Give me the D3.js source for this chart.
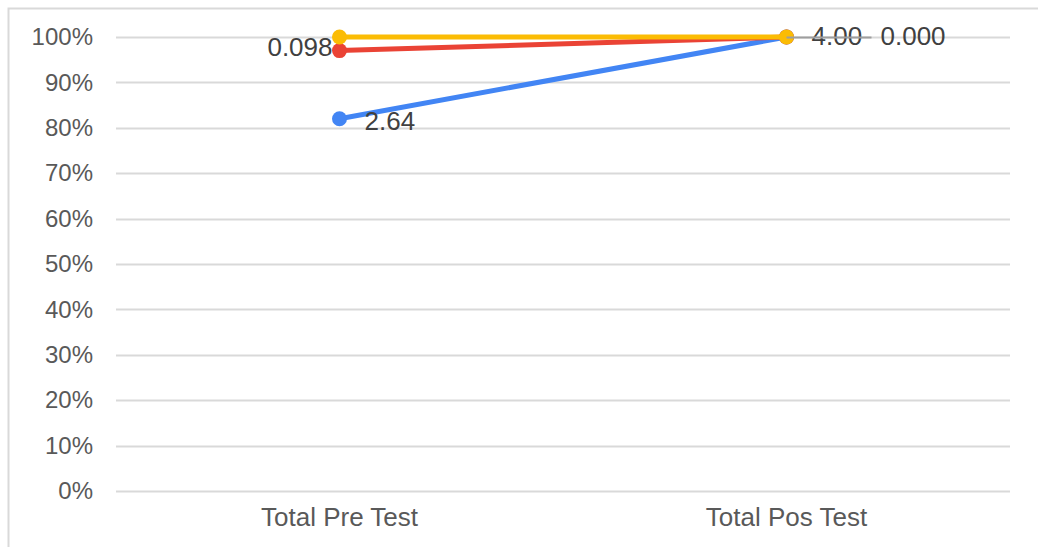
<!DOCTYPE html>
<html>
<head>
<meta charset="utf-8">
<script src="https://cdn.jsdelivr.net/npm/d3@7"></script>
<style>
  body { margin: 0; background: #fff; }
  svg { display: block; font-family: "Liberation Sans", Arial, sans-serif; }
</style>
</head>
<body>
<div id="chart"></div>
<script>
// data
const categories = ["Total Pre Test", "Total Pos Test"];
const blueValues = [0.82, 1.0];
const redValues = [0.97, 1.0];
const yellowValues = [1.0, 1.0];
const blueLabels = ["2.64", "4.00"];
const redLabels = ["0.098", "0.000"];
const yellowLabels = [null, null];
const yTicks = [0, 0.1, 0.2, 0.3, 0.4, 0.5, 0.6, 0.7, 0.8, 0.9, 1.0];

const width = 1038;
const height = 547;
const margin = { top: 37, right: 28, bottom: 56, left: 116 };

const series = [
  { name: "blue", values: blueValues, labels: blueLabels, color: "#4285F4" },
  { name: "red", values: redValues, labels: redLabels, color: "#EA4335" },
  { name: "yellow", values: yellowValues, labels: yellowLabels, color: "#FBBC04" },
];

const svg = d3
  .select("#chart")
  .append("svg")
  .attr("width", width)
  .attr("height", height);

// outer frame
svg
  .append("path")
  .attr("d", `M8.5,${height} V8.5 H${width}`)
  .attr("fill", "none")
  .attr("stroke", "#d9d9d9")
  .attr("stroke-width", 2);

const x = d3
  .scaleBand()
  .domain(categories)
  .range([margin.left, width - margin.right]);

const y = d3
  .scaleLinear()
  .domain([0, 1])
  .range([height - margin.bottom, margin.top]);

// gridlines
svg
  .append("g")
  .selectAll("line")
  .data(yTicks)
  .join("line")
  .attr("x1", margin.left)
  .attr("x2", width - margin.right)
  .attr("y1", (d) => Math.round(y(d)) + 0.5)
  .attr("y2", (d) => Math.round(y(d)) + 0.5)
  .attr("stroke", "#d9d9d9")
  .attr("stroke-width", 2);

// y axis labels
const yAxis = d3
  .axisLeft(y)
  .tickValues(yTicks)
  .tickFormat(d3.format(".0%"))
  .tickSize(0)
  .tickPadding(23);

svg
  .append("g")
  .attr("transform", `translate(${margin.left},0)`)
  .call(yAxis)
  .call((g) => g.select(".domain").remove())
  .call((g) =>
    g
      .selectAll("text")
      .attr("font-size", 24)
      .attr("fill", "#595959")
      .attr("font-family", "Liberation Sans, Arial, sans-serif"),
  );

// x axis labels
const xAxis = d3.axisBottom(x).tickSize(0).tickPadding(17);
svg
  .append("g")
  .attr("transform", `translate(0,${height - margin.bottom})`)
  .call(xAxis)
  .call((g) => g.select(".domain").remove())
  .call((g) =>
    g
      .selectAll("text")
      .attr("font-size", 26)
      .attr("fill", "#595959")
      .attr("font-family", "Liberation Sans, Arial, sans-serif"),
  );

const cx = (i) => x(categories[i]) + x.bandwidth() / 2;

const line = d3
  .line()
  .x((d, i) => cx(i))
  .y((d) => y(d));

series.forEach((s) => {
  const g = svg.append("g");
  g.append("path")
    .datum(s.values)
    .attr("fill", "none")
    .attr("stroke", s.color)
    .attr("stroke-width", 5)
    .attr("d", line);
  g.selectAll("circle")
    .data(s.values)
    .join("circle")
    .attr("cx", (d, i) => cx(i))
    .attr("cy", (d) => y(d))
    .attr("r", 7.5)
    .attr("fill", s.color);
});

// data labels
const labelPos = {
  blue: [
    { dx: 25, dy: 11, anchor: "start" },
    { dx: 25, dy: 8, anchor: "start" },
  ],
  red: [
    { dx: -7, dy: 5, anchor: "end" },
    { dx: 94, dy: 8, anchor: "start" },
  ],
};

series.forEach((s) => {
  if (!labelPos[s.name]) return;
  svg
    .append("g")
    .selectAll("text")
    .data(s.values)
    .join("text")
    .attr("x", (d, i) => cx(i) + labelPos[s.name][i].dx)
    .attr("y", (d) => y(d))
    .attr("dy", (d, i) => labelPos[s.name][i].dy)
    .attr("text-anchor", (d, i) => labelPos[s.name][i].anchor)
    .attr("font-size", 26)
    .attr("fill", "#404040")
    .text((d, i) => s.labels[i]);
});

// the 100% gridline runs through the post-test labels in the original
svg
  .append("line")
  .attr("x1", cx(1))
  .attr("x2", cx(1) + 85)
  .attr("y1", Math.round(y(1)) + 0.5)
  .attr("y2", Math.round(y(1)) + 0.5)
  .attr("stroke", "#9e9e9e")
  .attr("stroke-width", 2);
</script>
</body>
</html>
